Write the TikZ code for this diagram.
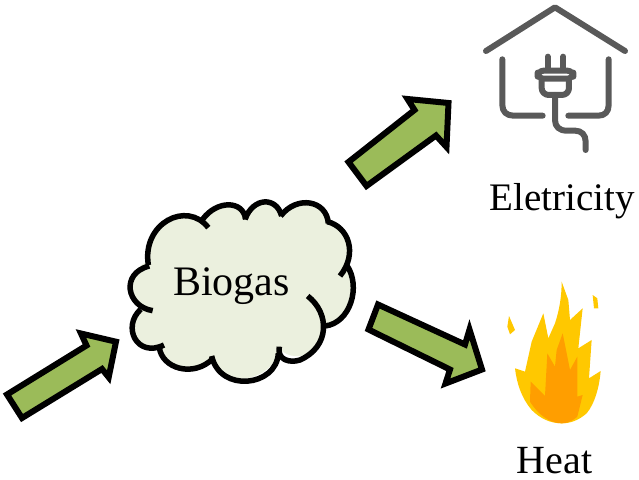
\documentclass[tikz,border=0pt]{standalone}
\usepackage{fontspec}
\setmainfont{Liberation Serif}
\definecolor{arrowgreen}{HTML}{9BBB59}
\definecolor{cloudfill}{HTML}{EBF0DE}
\definecolor{icongray}{HTML}{595959}
\definecolor{flameyellow}{HTML}{FFC800}
\definecolor{flameorange}{HTML}{FF9E00}
\tikzset{
  fatarrow/.style={draw=black,fill=arrowgreen,line width=6pt,miter limit=10,line join=miter},
  cloudline/.style={draw=black,line width=5.5pt,line cap=butt},
  iconline/.style={draw=icongray,line width=6pt,line cap=round,line join=round},
  label/.style={anchor=base,inner sep=0pt,font=\fontsize{40pt}{40pt}\selectfont},
}
\begin{document}
\begin{tikzpicture}[x=1pt,y=-1pt]
\useasboundingbox (0,0) rectangle (639,479);
% arrows
\draw[fatarrow] (7,394.5) -- (86.5,345.5) -- (81,333.5) -- (116,341.7) -- (108.7,377.3) -- (102,369) -- (22,418) -- cycle;
\draw[fatarrow] (348.5,162) -- (414.5,110) -- (407.5,99) -- (448.5,103) -- (446.5,147) -- (436,135.5) -- (366.5,186) -- cycle;
\draw[fatarrow] (378,304.5) -- (465,344.5) -- (469.5,329.5) -- (482,369.5) -- (445.5,383.5) -- (450,369.5) -- (368.5,329.5) -- cycle;
% cloud
\begin{scope}[shift={(120,190)},x=0.3333pt,y=-0.3333pt]
\fill[cloudfill] (98,362) .. controls (20,350) and (0,260) .. (80,215)
  .. controls (70,100) and (190,30) .. (255,95)
  .. controls (290,30) and (370,30) .. (378,80)
  .. controls (400,20) and (470,20) .. (485,75)
  .. controls (530,15) and (620,30) .. (625,95)
  .. controls (685,115) and (700,170) .. (680,225)
  .. controls (725,290) and (690,400) .. (615,408)
  .. controls (620,470) and (540,535) .. (475,475)
  .. controls (470,570) and (300,610) .. (275,500)
  .. controls (220,565) and (125,535) .. (122,470)
  .. controls (50,500) and (5,400) .. (60,360) -- cycle;
\draw[cloudline] (98,362) .. controls (20,350) and (0,250) .. (88,228);
\draw[cloudline] (85,225) .. controls (65,100) and (200,30) .. (265,113);
\draw[cloudline] (248,88) .. controls (290,30) and (370,30) .. (377,88);
\draw[cloudline] (375,88) .. controls (400,20) and (470,20) .. (485,78);
\draw[cloudline] (482,78) .. controls (530,15) and (620,30) .. (625,100);
\draw[cloudline] (622,95) .. controls (685,110) and (715,190) .. (660,258);
\draw[cloudline] (680,225) .. controls (725,290) and (690,400) .. (615,408);
\draw[cloudline] (563,318) .. controls (630,370) and (630,470) .. (540,510) .. controls (510,520) and (470,510) .. (478,470);
\draw[cloudline] (475,490) .. controls (470,590) and (300,610) .. (275,498);
\draw[cloudline] (280,505) .. controls (220,565) and (125,535) .. (118,472);
\draw[cloudline] (132,465) .. controls (50,505) and (5,410) .. (62,358);
\end{scope}
% house icon
\begin{scope}[shift={(470,0)},x=0.3333pt,y=-0.3333pt]
\draw[iconline] (48,153) -- (255,22) -- (465,153);
\draw[iconline] (97,178) -- (97,315) .. controls (97,335) and (110,347) .. (130,347) -- (218,347);
\draw[iconline] (416,178) -- (416,315) .. controls (416,335) and (405,347) .. (385,347) -- (295,347);
\draw[iconline] (233,170) -- (233,208);
\draw[iconline] (280,170) -- (280,208);
\draw[iconline,rounded corners=6pt] (203,212) rectangle (310,236);
\draw[iconline,rounded corners=7pt] (215,236) -- (215,285) -- (297,285) -- (297,236);
\draw[iconline] (255,285) -- (255,360) .. controls (255,380) and (268,392) .. (290,392) -- (315,392) .. controls (335,392) and (347,405) .. (347,425) -- (347,450);
\end{scope}
% flame
\begin{scope}[shift={(490,270)},x=0.3333pt,y=-0.3333pt]
\fill[flameyellow] (215,35) -- (235,90) -- (240,150) -- (278,115) -- (265,235) -- (305,210) -- (297,325) -- (332,303) .. controls (328,350) and (315,400) .. (290,430) .. controls (265,452) and (240,460) .. (215,460) .. controls (180,460) and (150,445) .. (125,420) .. controls (95,385) and (80,340) .. (75,295) -- (105,305) -- (125,215) -- (160,130) -- (175,205) -- (195,160) .. controls (208,120) and (215,80) .. (215,35) -- cycle;
\fill[flameorange] (218,190) -- (240,300) -- (262,260) -- (262,380) -- (278,375) -- (262,440) .. controls (245,455) and (230,460) .. (215,460) .. controls (180,460) and (145,435) .. (120,395) -- (122,335) -- (165,378) -- (172,250) -- (195,290) -- (200,240) -- cycle;
\fill[flameyellow] (57,138) -- (75,180) -- (60,193) -- (52,170) -- cycle;
\fill[flameyellow] (308,75) -- (322,85) -- (325,115) -- (312,115) -- cycle;
\end{scope}
% labels
\node[label,font=\fontsize{42pt}{42pt}\selectfont] (biogas) at (231.5,295) {Biogas};
\node[label,font=\fontsize{39pt}{39pt}\selectfont] (elec) at (562,210) {Eletricity};
\node[label] (heat) at (554.5,473.5) {Heat};
\end{tikzpicture}
\end{document}
